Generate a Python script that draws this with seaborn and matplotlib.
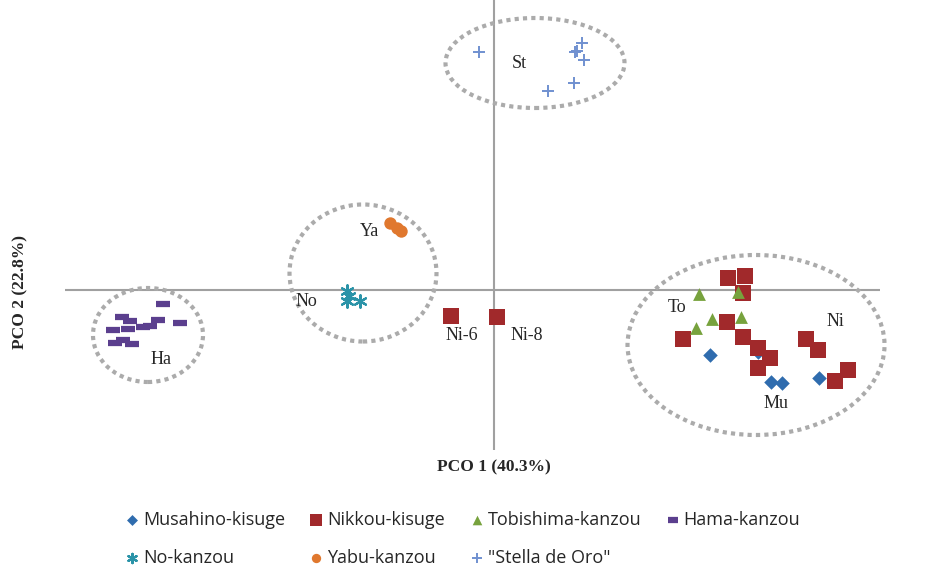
import numpy as np
import pandas as pd
import matplotlib
matplotlib.use("Agg")
import matplotlib.pyplot as plt
from matplotlib.patches import Ellipse
import seaborn as sns

sns.set_style("white")

# PCO scores
groups = ["Musahino-kisuge", "Nikkou-kisuge", "Tobishima-kanzou", "Hama-kanzou",
          "No-kanzou", "Yabu-kanzou", "\"Stella de Oro\""]

mu_x = [2.16, 2.64, 2.77, 2.88, 3.25]
mu_y = [-0.65, -0.62, -0.92, -0.93, -0.88]
ni_x = [2.34, 2.51, 2.49, 2.33, 1.89, 2.49, 2.64, 2.76, 2.64, 3.12, 3.24, 3.54, 3.41, -0.43, 0.03]
ni_y = [0.12, 0.14, -0.03, -0.32, -0.49, -0.47, -0.58, -0.68, -0.78, -0.49, -0.60, -0.80, -0.91, -0.26, -0.27]
to_x = [2.05, 2.44, 2.18, 2.47, 2.02]
to_y = [-0.04, -0.02, -0.29, -0.27, -0.38]
ha_x = [-3.31, -3.72, -3.64, -3.36, -3.14, -3.44, -3.51, -3.81, -3.66, -3.79, -3.71, -3.62]
ha_y = [-0.14, -0.27, -0.31, -0.30, -0.33, -0.36, -0.37, -0.40, -0.39, -0.53, -0.50, -0.54]
no_x = [-1.47, -1.45, -1.47, -1.34]
no_y = [-0.01, -0.06, -0.11, -0.11]
ya_x = [-1.04, -0.97, -0.93]
ya_y = [0.67, 0.62, 0.59]
st_x = [-0.15, 0.88, 0.81, 0.83, 0.90, 0.80, 0.54]
st_y = [2.38, 2.47, 2.38, 2.39, 2.30, 2.07, 1.99]

all_x = [mu_x, ni_x, to_x, ha_x, no_x, ya_x, st_x]
all_y = [mu_y, ni_y, to_y, ha_y, no_y, ya_y, st_y]

colors = ["#2F6CAE", "#A1292B", "#77A23D", "#5B3F8E", "#2A93A8", "#E0782E", "#7090D0"]
markers = ["D", "s", "^", "_", (6, 2, 0), "o", "+"]
sizes = [55, 120, 85, 110, 80, 80, 80]
lws = [0, 0, 0, 4.5, 1.6, 0, 1.4]

# group labels and circled clusters
labels = ["St", "Ya", "No", "Ha", "Ni-6", "Ni-8", "To", "Ni", "Mu"]
label_x = [0.25, -1.25, -1.88, -3.33, -0.32, 0.33, 1.83, 3.41, 2.82]
label_y = [2.27, 0.59, -0.12, -0.69, -0.46, -0.46, -0.17, -0.31, -1.13]

ell_cx = [0.41, -1.31, -3.46, 2.62]
ell_cy = [2.27, 0.17, -0.45, -0.55]
ell_w = [1.79, 1.47, 1.10, 2.57]
ell_h = [0.90, 1.37, 0.94, 1.80]

fig = plt.figure(figsize=(9.44, 5.69), dpi=100)
ax = fig.add_axes([65 / 944, 1 - 450 / 569, 815 / 944, 450 / 569])

for g, xs, ys, c, m, s, lw in zip(groups, all_x, all_y, colors, markers, sizes, lws):
    df = pd.DataFrame({"x": xs, "y": ys})
    sns.scatterplot(data=df, x="x", y="y", color=c, marker=m, s=s, linewidth=lw,
                    ax=ax, label=g, zorder=3, clip_on=False)

ax.axhline(0, color="#A0A0A0", lw=1.5, zorder=1)
ax.axvline(0, color="#A0A0A0", lw=1.5, zorder=1)

for cx, cy, w, h in zip(ell_cx, ell_cy, ell_w, ell_h):
    ax.add_patch(Ellipse((cx, cy), w, h, fill=False, edgecolor="#ABABAB",
                         lw=3, linestyle=(0, (1, 1)), zorder=2, clip_on=False))

for t, tx, ty in zip(labels, label_x, label_y):
    ax.text(tx, ty, t, fontsize=13, family="Liberation Serif", ha="center", va="center", zorder=4)

ax.set_xlim(-4.29, 3.86)
ax.set_ylim(-1.60, 2.90)
ax.set_xticks([])
ax.set_yticks([])
for sp in ax.spines.values():
    sp.set_visible(False)

ax.set_xlabel("PCO 1 (40.3%)", fontsize=12.5, family="Liberation Serif", fontweight="bold")
ax.xaxis.set_label_coords((494 - 65) / 815, -9 / 450)
ax.set_ylabel("PCO 2 (22.8%)", fontsize=12.5, family="Liberation Serif", fontweight="bold")
ax.yaxis.set_label_coords(-37 / 815, (450 - 292) / 450)

h, l = ax.get_legend_handles_labels()
ax.get_legend().remove()
order = [0, 4, 1, 5, 2, 6, 3]
fig.legend([h[i] for i in order], [l[i] for i in order], ncol=4, loc="center",
           bbox_to_anchor=(462 / 944, 1 - 539 / 569), frameon=False,
           prop={"family": "Open Sans", "size": 13}, handletextpad=0.15,
           columnspacing=1.3, handlelength=0.9, labelspacing=1.1, markerscale=0.75)

fig.savefig("out.png", dpi=100)
